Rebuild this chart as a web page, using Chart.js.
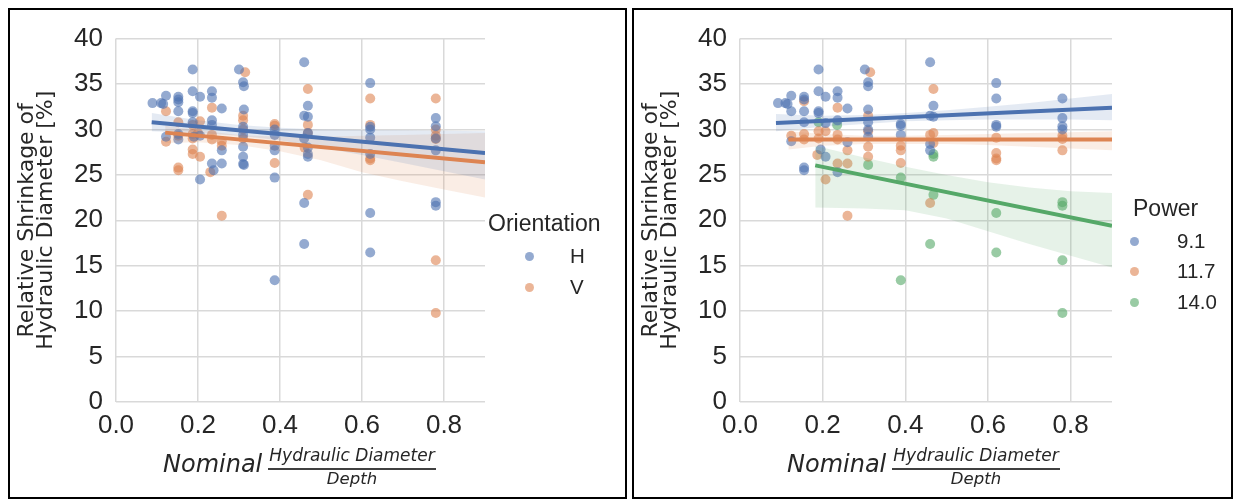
<!DOCTYPE html>
<html>
<head>
<meta charset="utf-8">
<script src="https://cdn.jsdelivr.net/npm/chart.js@4.4.0/dist/chart.umd.min.js"></script>
<style>
  body { margin: 0; width: 1233px; height: 500px; background: #fff; position: relative; overflow: hidden;
         font-family: "Liberation Sans", Arial, sans-serif; color: #262626; }
  .panel { position: absolute; top: 8px; height: 491px; border: 2.5px solid #000; box-sizing: border-box; }
  canvas { position: absolute; top: 10px; }
  .abs { position: absolute; white-space: nowrap; line-height: 1; }
  .math { font-family: "DejaVu Sans", sans-serif; font-style: italic; color: #262626; }
  .dot { position: absolute; width: 9px; height: 9px; border-radius: 50%; }
</style>
</head>
<body>
<div class="panel" style="left:8px; width:619px;"></div>
<div class="panel" style="left:632px; width:601px;"></div>
<canvas id="leftChart" width="615" height="487" style="left:10px;"></canvas>
<canvas id="rightChart" width="597" height="487" style="left:634px;"></canvas>

<script>
// ---- scatter points [x, y] ----
const orientH = [
  [0.089, 32.9], [0.11, 32.9], [0.115, 32.8], [0.122, 33.7], [0.122, 29.2],
  [0.152, 33.6], [0.152, 33.3], [0.152, 33.0], [0.152, 32.0], [0.152, 29.5], [0.152, 28.9],
  [0.187, 36.6], [0.187, 34.2], [0.187, 32.0], [0.187, 31.8], [0.187, 30.8], [0.19, 29.2],
  [0.205, 33.6], [0.205, 29.3], [0.205, 24.5],
  [0.234, 34.2], [0.234, 33.5], [0.234, 31.0], [0.234, 30.5], [0.234, 26.25], [0.238, 25.5],
  [0.258, 32.3], [0.258, 27.7], [0.258, 26.25],
  [0.30, 36.6], [0.31, 35.2], [0.312, 34.75], [0.312, 32.2], [0.31, 30.3], [0.31, 29.4],
  [0.31, 28.1], [0.31, 27.0], [0.312, 26.1], [0.31, 26.2],
  [0.387, 30.0], [0.387, 29.4], [0.387, 28.2], [0.387, 27.7], [0.387, 24.7], [0.387, 13.4],
  [0.459, 37.4], [0.459, 31.5], [0.459, 29.0], [0.459, 21.9], [0.459, 17.4],
  [0.468, 32.6], [0.468, 31.4], [0.468, 29.6], [0.468, 28.0], [0.468, 27.3], [0.468, 27.0],
  [0.62, 35.1], [0.62, 30.3], [0.62, 30.0], [0.62, 29.1], [0.62, 27.3], [0.62, 20.8], [0.62, 16.45],
  [0.78, 31.25], [0.78, 30.35], [0.78, 29.0], [0.78, 27.7], [0.78, 22.0], [0.78, 21.6]
];
const orientV = [
  [0.122, 32.0], [0.122, 28.65],
  [0.152, 30.8], [0.152, 29.3], [0.152, 25.8], [0.152, 25.5],
  [0.187, 30.5], [0.187, 29.5], [0.187, 29.0], [0.187, 27.8], [0.187, 27.3],
  [0.205, 30.9], [0.2, 29.6], [0.205, 27.0],
  [0.234, 32.4], [0.234, 29.4], [0.234, 28.9], [0.23, 25.3],
  [0.258, 28.7], [0.258, 28.2], [0.258, 20.5],
  [0.315, 36.3], [0.31, 31.5], [0.31, 31.0], [0.31, 30.0], [0.31, 29.0],
  [0.387, 30.6], [0.387, 30.4], [0.387, 26.3],
  [0.468, 34.45], [0.468, 30.5], [0.468, 29.6], [0.46, 28.0], [0.468, 22.8],
  [0.62, 33.4], [0.62, 30.5], [0.62, 26.8], [0.62, 26.6],
  [0.78, 33.4], [0.78, 30.0], [0.78, 29.3], [0.78, 28.95], [0.78, 15.6], [0.78, 9.8]
];
const power91 = [
  [0.092, 32.9], [0.11, 32.9], [0.115, 32.8], [0.124, 33.7], [0.124, 32.0], [0.124, 28.7],
  [0.155, 33.6], [0.155, 33.3], [0.155, 32.0], [0.155, 30.8], [0.155, 25.8], [0.155, 25.5],
  [0.19, 36.6], [0.19, 34.2], [0.19, 32.0], [0.19, 31.8], [0.195, 27.8],
  [0.207, 33.6], [0.207, 30.7], [0.207, 27.0],
  [0.236, 34.2], [0.236, 33.5], [0.236, 31.0], [0.236, 25.3],
  [0.26, 32.3], [0.26, 28.6],
  [0.302, 36.6], [0.31, 35.2], [0.31, 34.75], [0.31, 32.2], [0.31, 30.8], [0.31, 30.0], [0.31, 29.2],
  [0.389, 30.6], [0.389, 30.4], [0.389, 29.4],
  [0.46, 37.4], [0.46, 31.5], [0.46, 28.4], [0.46, 27.7],
  [0.468, 32.6], [0.468, 31.4],
  [0.62, 35.1], [0.62, 33.4], [0.62, 30.5], [0.62, 30.3],
  [0.78, 33.4], [0.78, 31.25], [0.78, 30.35], [0.78, 30.0]
];
const power117 = [
  [0.124, 29.3],
  [0.155, 33.1], [0.155, 29.5], [0.155, 28.9],
  [0.19, 29.8], [0.19, 29.0], [0.187, 27.2],
  [0.207, 29.8], [0.207, 24.5],
  [0.236, 32.4], [0.236, 29.4], [0.236, 28.9], [0.236, 26.25],
  [0.26, 27.7], [0.26, 26.25], [0.26, 20.5],
  [0.315, 36.3], [0.31, 31.5], [0.31, 29.8], [0.31, 28.1], [0.31, 27.0],
  [0.389, 28.2], [0.389, 27.7], [0.389, 26.3],
  [0.46, 29.4], [0.46, 21.9],
  [0.468, 34.45], [0.468, 29.6], [0.468, 28.5],
  [0.62, 29.1], [0.62, 27.4], [0.62, 26.8], [0.62, 26.6],
  [0.78, 29.3], [0.78, 28.95], [0.78, 27.7]
];
const power140 = [
  [0.19, 30.8], [0.235, 30.5], [0.31, 26.1],
  [0.389, 24.7], [0.389, 13.4],
  [0.468, 27.3], [0.468, 27.0], [0.468, 22.8], [0.46, 17.4],
  [0.62, 20.8], [0.62, 16.45],
  [0.78, 22.0], [0.78, 21.6], [0.78, 15.6], [0.78, 9.8]
];

// ---- regression lines (end points) ----
const fitH = { x: [0.087, 0.9], y: [30.8, 27.4] };
const fitV = { x: [0.12, 0.9], y: [29.65, 26.4] };
const fit91 = { x: [0.087, 0.9], y: [30.7, 32.4] };
const fit117 = { x: [0.117, 0.9], y: [28.9, 28.9] };
const fit140 = { x: [0.182, 0.9], y: [26.05, 19.4] };

// ---- confidence bands ----
const bandH = { x: [0.087, 0.2, 0.3, 0.4, 0.5, 0.6, 0.7, 0.8, 0.9],
  up: [31.8, 31.0, 30.5, 30.2, 30.0, 29.95, 29.9, 29.85, 29.8],
  lo: [29.8, 29.6, 29.3, 28.8, 28.0, 27.2, 26.3, 25.4, 24.5] };
const bandV = { x: [0.12, 0.2, 0.3, 0.4, 0.5, 0.6, 0.7, 0.8, 0.9],
  up: [30.4, 29.9, 29.4, 29.2, 29.2, 29.3, 29.4, 29.5, 29.6],
  lo: [28.5, 28.6, 28.3, 27.6, 26.6, 25.3, 24.3, 23.4, 22.5] };
const band91 = { x: [0.087, 0.2, 0.3, 0.4, 0.5, 0.6, 0.7, 0.8, 0.9],
  up: [31.7, 31.5, 31.6, 31.8, 32.1, 32.5, 32.9, 33.4, 33.9],
  lo: [29.8, 30.3, 30.6, 30.9, 31.0, 31.1, 31.1, 31.1, 31.0] };
const band117 = { x: [0.117, 0.2, 0.3, 0.4, 0.5, 0.6, 0.7, 0.8, 0.9],
  up: [29.8, 29.5, 29.3, 29.3, 29.4, 29.5, 29.6, 29.7, 29.8],
  lo: [27.8, 28.2, 28.4, 28.4, 28.4, 28.3, 28.1, 27.9, 27.7] };
const band140 = { x: [0.182, 0.3, 0.4, 0.5, 0.6, 0.7, 0.8, 0.9],
  up: [28.2, 26.9, 25.9, 25.0, 24.2, 23.6, 23.2, 23.0],
  lo: [21.4, 21.3, 21.1, 20.2, 18.8, 17.4, 16.1, 14.8] };

const xTicks = [0, 0.2, 0.4, 0.6, 0.8];
const yTicks = [0, 5, 10, 15, 20, 25, 30, 35, 40];
const orientLabels = ['H', 'V'];
const powerLabels = ['9.1', '11.7', '14.0'];

const BLUE = [76, 114, 176], ORANGE = [221, 132, 82], GREEN = [85, 168, 104];
const rgba = (c, a) => `rgba(${c[0]},${c[1]},${c[2]},${a})`;
const TEXT = '#262626';

function seriesSets(pts, fit, band, col) {
  const zip = (xs, ys) => xs.map((x, i) => ({ x: x, y: ys[i] }));
  return [
    { type: 'line', data: zip(fit.x, fit.y), borderColor: rgba(col, 1), borderWidth: 4,
      pointRadius: 0, fill: false, order: 0 },
    { type: 'line', data: zip(band.x, band.lo), borderWidth: 0, pointRadius: 0,
      borderColor: 'rgba(0,0,0,0)', fill: false, order: 1 },
    { type: 'line', data: zip(band.x, band.up), borderWidth: 0, pointRadius: 0,
      borderColor: 'rgba(0,0,0,0)', backgroundColor: rgba(col, 0.15), fill: '-1', order: 1 },
    { type: 'scatter', data: pts.map(p => ({ x: p[0], y: p[1] })), pointRadius: 5,
      pointBorderWidth: 0, backgroundColor: rgba(col, 0.6), order: 2 }
  ];
}

function makeOptions(rightPad) {
  const tickFont = { family: '"Liberation Sans", Arial, sans-serif', size: 26 };
  return {
    responsive: false,
    animation: false,
    events: [],
    layout: { padding: { top: 18, right: rightPad, bottom: 0, left: 0 } },
    plugins: { legend: { display: false }, tooltip: { enabled: false } },
    scales: {
      x: {
        type: 'linear', min: 0, max: 0.9,
        afterBuildTicks: s => { s.ticks = xTicks.map(v => ({ value: v })); },
        afterFit: s => { s.height = 95; },
        ticks: { color: TEXT, font: tickFont, padding: 8, maxRotation: 0,
                 callback: v => v.toFixed(1) },
        grid: { color: '#d9d9d9', lineWidth: 1.5, drawTicks: false },
        border: { display: false }
      },
      y: {
        min: 0, max: 40,
        afterBuildTicks: s => { s.ticks = yTicks.map(v => ({ value: v })); },
        afterFit: s => { s.width = 106; },
        ticks: { color: TEXT, font: tickFont, padding: 13 },
        grid: { color: '#d9d9d9', lineWidth: 1.5, drawTicks: false },
        border: { display: false },
        title: { display: true, text: ['Relative Shrinkage of', 'Hydraulic Diameter [%]'],
                 color: TEXT, padding: { top: 7.5, bottom: 0 },
                 font: { family: '"DejaVu Sans", sans-serif', size: 22, lineHeight: 0.86 } }
      }
    }
  };
}

function addXTitle(dx) {
  const add = (html, cls, css) => {
    const d = document.createElement('div');
    d.className = cls;
    d.innerHTML = html;
    Object.assign(d.style, css);
    document.body.appendChild(d);
    return d;
  };
  add('Nominal', 'abs math', { left: (163 + dx) + 'px', top: '452px', fontSize: '24px' });
  add('Hydraulic Diameter', 'abs math', { left: (266 + dx) + 'px', width: '172px', textAlign: 'center',
      top: '447px', fontSize: '17px' });
  add('', 'abs', { left: (268 + dx) + 'px', top: '468px', width: '168px', height: '1.5px', background: '#404040' });
  add('Depth', 'abs math', { left: (268 + dx) + 'px', width: '168px', textAlign: 'center',
      top: '471px', fontSize: '16.5px' });
}

function addLegend(title, labels, cols, titleX, titleTop, dotX, labelX, rowY) {
  const t = document.createElement('div');
  t.className = 'abs';
  t.textContent = title;
  Object.assign(t.style, { left: titleX + 'px', top: titleTop + 'px', fontSize: '23px' });
  document.body.appendChild(t);
  labels.forEach((lab, i) => {
    const dot = document.createElement('div');
    dot.className = 'dot';
    Object.assign(dot.style, { left: (dotX - 4.5) + 'px', top: (rowY[i] - 4.5) + 'px',
                               background: rgba(cols[i], 0.6) });
    document.body.appendChild(dot);
    const l = document.createElement('div');
    l.className = 'abs';
    l.textContent = lab;
    Object.assign(l.style, { left: labelX + 'px', top: (rowY[i] - 10.25) + 'px', fontSize: '20.5px' });
    document.body.appendChild(l);
  });
}

new Chart(document.getElementById('leftChart'), {
  type: 'scatter',
  data: { datasets: [
    ...seriesSets(orientH, fitH, bandH, BLUE),
    ...seriesSets(orientV, fitV, bandV, ORANGE)
  ] },
  options: makeOptions(140)
});

new Chart(document.getElementById('rightChart'), {
  type: 'scatter',
  data: { datasets: [
    ...seriesSets(power91, fit91, band91, BLUE),
    ...seriesSets(power117, fit117, band117, ORANGE),
    ...seriesSets(power140, fit140, band140, GREEN)
  ] },
  options: makeOptions(119)
});

addXTitle(0);
addXTitle(624);
addLegend('Orientation', orientLabels, [BLUE, ORANGE], 488, 212, 529, 570, [256, 287]);
addLegend('Power', powerLabels, [BLUE, ORANGE, GREEN], 1133, 197, 1134, 1177, [241, 271.5, 302]);
</script>
</body>
</html>
